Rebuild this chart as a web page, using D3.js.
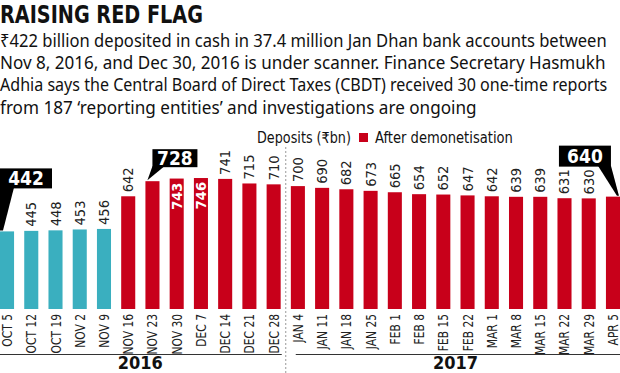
<!DOCTYPE html>
<html>
<head>
<meta charset="utf-8">
<script src="https://cdn.jsdelivr.net/npm/d3@7"></script>
<style>
  html, body { margin: 0; padding: 0; background: #fff; }
  svg { display: block; }
  .narrow { font-family: "Liberation Sans Narrow", "DejaVu Sans Condensed", "Noto Sans", sans-serif; }
  .body-text { font-family: "Noto Sans", "Open Sans", sans-serif; font-size: 18px; fill: #111; }
</style>
</head>
<body>
<svg id="chart" width="620" height="373"></svg>
<script>
// weekly data
const weeks = ["OCT 5", "OCT 12", "OCT 19", "NOV 2", "NOV 9", "NOV 16", "NOV 23", "NOV 30",
  "DEC 7", "DEC 14", "DEC 21", "DEC 28", "JAN 4", "JAN 11", "JAN 18", "JAN 25", "FEB 1",
  "FEB 8", "FEB 15", "FEB 22", "MAR 1", "MAR 8", "MAR 15", "MAR 22", "MAR 29", "APR 5"];
const deposits = [442, 445, 448, 453, 456, 642, 728, 743, 746, 741, 715, 710, 700, 690, 682,
  673, 665, 654, 652, 647, 642, 639, 639, 631, 630, 640];
const firstAfterDemo = "NOV 16";
const years = ["2016", "2017"];
const yearStart = ["OCT 5", "JAN 4"];
const yearEnd = ["DEC 28", "APR 5"];
const calloutWeeks = ["OCT 5", "NOV 23", "APR 5"];
const insideLabelWeeks = ["NOV 30", "DEC 7"];

const title = "RAISING RED FLAG";
const intro = [
  "₹422 billion deposited in cash in 37.4 million Jan Dhan bank accounts between",
  "Nov 8, 2016, and Dec 30, 2016 is under scanner. Finance Secretary Hasmukh",
  "Adhia says the Central Board of Direct Taxes (CBDT) received 30 one-time reports",
  "from 187 ‘reporting entities’ and investigations are ongoing"
];
const introWidths = [607, 606, 608, 477];
const legendLabel = "Deposits (₹bn)";
const legendItem = "After demonetisation";

const RED = "#c8001a";
const TEAL = "#3aafbf";

const svg = d3.select("#chart");
const width = 620;

const x = d3.scaleBand()
  .domain(weeks)
  .range([0, width])
  .paddingInner(0.42)
  .paddingOuter(0);

const y = d3.scaleLinear()
  .domain([0, 1760])
  .range([309, 0]);

const afterIdx = weeks.indexOf(firstAfterDemo);
const rows = weeks.map((w, i) => ({ week: w, value: deposits[i], after: i >= afterIdx }));

// squeeze a text horizontally so it spans `w` pixels
function fitWidth(sel, x0, y0, w) {
  const len = sel.node().getComputedTextLength();
  sel.attr("x", 0).attr("y", 0)
    .attr("transform", `translate(${x0},${y0}) scale(${w / len},1)`);
}

// title + intro
const titleText = svg.append("text")
  .attr("class", "narrow")
  .style("font-size", "24px").style("font-weight", "bold").style("fill", "#111")
  .text(title);
fitWidth(titleText, 0, 23, 203);

intro.forEach((line, i) => {
  const t = svg.append("text").attr("class", "body-text").text(line);
  fitWidth(t, 0, 46.5 + i * 22.4, introWidths[i]);
});

// legend
const lg1 = svg.append("text")
  .attr("class", "narrow")
  .style("font-size", "15px").style("fill", "#111")
  .text(legendLabel);
fitWidth(lg1, 257, 143, 94);
svg.append("rect")
  .attr("x", 359).attr("y", 133).attr("width", 9).attr("height", 9)
  .attr("fill", RED);
const lg2 = svg.append("text")
  .attr("class", "narrow")
  .style("font-size", "15px").style("fill", "#111")
  .text(legendItem);
fitWidth(lg2, 375, 143, 138);

// divider between years
const divX = (x(yearEnd[0]) + x.bandwidth() + x(yearStart[1])) / 2;
svg.append("line")
  .attr("x1", divX).attr("x2", divX)
  .attr("y1", 147).attr("y2", 373)
  .style("stroke", "#999").style("stroke-width", 1)
  .style("stroke-dasharray", "2,2");

// bars
svg.selectAll(".bar")
  .data(rows)
  .enter().append("rect")
  .attr("class", "bar")
  .attr("x", d => x(d.week))
  .attr("y", d => y(d.value))
  .attr("width", x.bandwidth())
  .attr("height", d => y(0) - y(d.value))
  .attr("fill", d => d.after ? RED : TEAL);

// value labels
const plain = rows.filter(d => !calloutWeeks.includes(d.week) && !insideLabelWeeks.includes(d.week));
svg.selectAll(".val")
  .data(plain)
  .enter().append("text")
  .attr("class", "narrow val")
  .attr("transform", d => `translate(${x(d.week) + x.bandwidth() / 2 + 5},${y(d.value) - 4}) rotate(-90)`)
  .style("font-size", "14.5px").style("fill", "#222")
  .text(d => d.value);

svg.selectAll(".valIn")
  .data(rows.filter(d => insideLabelWeeks.includes(d.week)))
  .enter().append("text")
  .attr("class", "narrow valIn")
  .attr("text-anchor", "end")
  .attr("transform", d => `translate(${x(d.week) + x.bandwidth() / 2 + 5},${y(d.value) + 4}) rotate(-90)`)
  .style("font-size", "14.5px").style("font-weight", "bold").style("fill", "#fff")
  .text(d => d.value);

// callouts
const calloutLayout = {
  "OCT 5": { dx: 0, w: 52, h: 20, gap: 43, wedge: "left" },
  "NOV 23": { dx: 7, w: 45, h: 18, gap: 14, wedge: "left2" },
  "APR 5": { dx: -47, w: 52, h: 21, gap: 30, wedge: "right" }
};
rows.filter(d => calloutWeeks.includes(d.week)).forEach(d => {
  const L = calloutLayout[d.week];
  const bx = x(d.week), top = y(d.value);
  const left = bx + L.dx, bottom = top - L.gap, right = left + L.w;
  let pts;
  if (L.wedge === "left") {
    pts = [[left, bottom - 1], [left + 14, bottom - 1], [bx + 3, top - 1], [bx, top - 1]];
  } else if (L.wedge === "left2") {
    pts = [[left, bottom - 1], [left + 12, bottom - 1], [bx + 2, top - 1]];
  } else {
    pts = [[right - 13, bottom - 1], [right, bottom - 1], [bx + 13, top - 1], [bx + 11, top - 1]];
  }
  svg.append("polygon")
    .attr("points", pts.map(p => p.join(",")).join(" "))
    .attr("fill", "#000");
  svg.append("rect")
    .attr("x", left).attr("y", bottom - L.h)
    .attr("width", L.w).attr("height", L.h)
    .attr("fill", "#000");
  svg.append("text")
    .attr("class", "narrow")
    .attr("x", left + L.w / 2).attr("y", bottom - L.h / 2 + 6.5)
    .attr("text-anchor", "middle")
    .style("font-size", "19px").style("font-weight", "bold").style("fill", "#fff")
    .text(d.value);
});

// x labels (a bit compressed, like the condensed original)
svg.selectAll(".xlab")
  .data(weeks)
  .enter().append("text")
  .attr("class", "narrow xlab")
  .attr("text-anchor", "end")
  .attr("transform", d => `translate(${x(d) + x.bandwidth() / 2 + 5},314) rotate(-90) scale(0.85,1)`)
  .style("font-size", "14px").style("fill", "#222")
  .text(d => d);

// year brackets
years.forEach((yr, i) => {
  const x0 = i === 0 ? 0 : divX + 10;
  const x1 = i === 0 ? divX - 4 : width;
  svg.append("line")
    .attr("x1", x0).attr("x2", x1)
    .attr("y1", 354.5).attr("y2", 354.5)
    .style("stroke", "#333").style("stroke-width", 1);
  const cx = (x(yearStart[i]) + x(yearEnd[i]) + x.bandwidth()) / 2;
  svg.append("text")
    .attr("class", "narrow")
    .attr("x", cx).attr("y", 368.5)
    .attr("text-anchor", "middle")
    .style("font-size", "18px").style("font-weight", "bold").style("fill", "#111")
    .text(yr);
});
</script>
</body>
</html>
